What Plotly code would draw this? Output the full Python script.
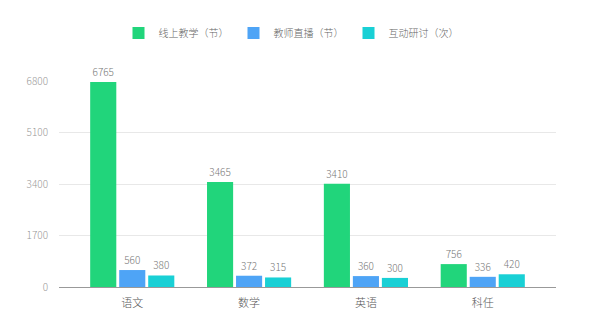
import plotly.graph_objects as go

categories = ["语文", "数学", "英语", "科任"]
series_names = ["线上教学（节）", "教师直播（节）", "互动研讨（次）"]
online = [6765, 3465, 3410, 756]
live = [560, 372, 360, 336]
discuss = [380, 315, 300, 420]
colors = ["#21d57b", "#4ea4f6", "#19d0d5"]
y_ticks = [0, 1700, 3400, 5100, 6800]

font_family = "Noto Sans CJK SC, Noto Sans, sans-serif"

fig = go.Figure()
for name, vals, col in zip(series_names, [online, live, discuss], colors):
    fig.add_trace(go.Bar(
        x=categories, y=vals, name=name,
        marker=dict(color=col, line=dict(width=0)),
        text=[str(v) for v in vals], textposition="outside",
        textfont=dict(size=10, color="#777777", family=font_family, weight=300),
        cliponaxis=False,
    ))

fig.update_layout(
    width=600, height=317,
    margin=dict(l=59, r=44, t=81, b=30),
    paper_bgcolor="white", plot_bgcolor="white",
    barmode="group", bargap=0.255, bargroupgap=0.1,
    font=dict(family=font_family, color="#666666", size=10, weight=300),
    showlegend=True,
    legend=dict(orientation="h", x=0.485, xref="container", xanchor="center",
                y=1 - 33/317, yref="container", yanchor="middle",
                font=dict(size=10, color="#666666", weight=300),
                itemclick=False, tracegroupgap=0, itemwidth=30),
    xaxis=dict(range=[-0.627, 3.627], showgrid=False, showline=True,
               linecolor="#999999", linewidth=1, ticks="", ticklabelstandoff=6,
               automargin=False,
               tickfont=dict(size=11, color="#555555", weight=300), fixedrange=True),
    yaxis=dict(range=[0, 6800], tickvals=y_ticks, ticktext=[str(t) for t in y_ticks],
               showgrid=True, gridcolor="#e8e8e8", gridwidth=1, zeroline=False,
               showline=False, ticks="", ticklabelstandoff=10, automargin=False,
               tickfont=dict(size=10, color="#999999", weight=300), fixedrange=True),
)

fig.write_html("out.html")
